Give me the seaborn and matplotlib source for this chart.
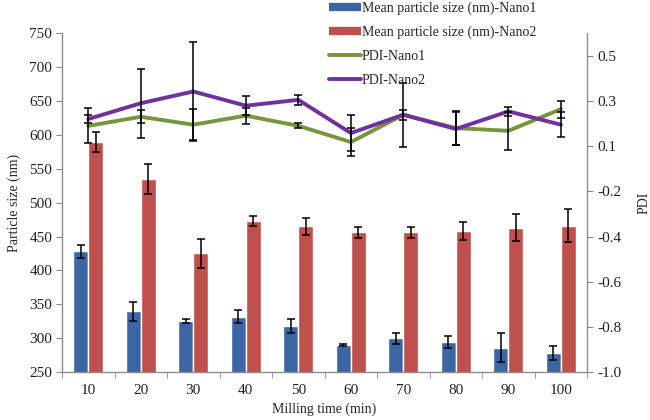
import numpy as np
import pandas as pd
import matplotlib
matplotlib.use("Agg")
import matplotlib.pyplot as plt
from matplotlib.lines import Line2D
from matplotlib.ticker import FixedLocator
import seaborn as sns

# --- dados ---
milling_time = ["10", "20", "30", "40", "50", "60", "70", "80", "90", "100"]

size_nano1 = [428, 340, 326, 332, 318, 290, 300, 294, 286, 278]
size_nano1_err = [10, 14, 3, 10, 10, 2, 8, 9, 21, 10]
size_nano2 = [589, 535, 425, 473, 465, 456, 456, 458, 463, 466]
size_nano2_err = [15, 22, 21, 8, 13, 8, 8, 13, 20, 24]

pdi_nano1 = [0.19, 0.23, 0.195, 0.235, 0.19, 0.118, 0.239, 0.18, 0.168, 0.264]
pdi_nano1_err = [0.077, 0.028, 0.069, 0.035, 0.011, 0.062, 0.022, 0.075, 0.084, 0.038]
pdi_nano2 = [0.22, 0.29, 0.342, 0.279, 0.305, 0.158, 0.239, 0.176, 0.254, 0.195]
pdi_nano2_err = [0.019, 0.152, 0.217, 0.041, 0.022, 0.081, 0.141, 0.073, 0.019, 0.054]

# rótulos do eixo PDI como aparecem na figura original
pdi_ticks = [-0.9, -0.7, -0.5, -0.3, -0.1, 0.1, 0.3, 0.5]
pdi_tick_labels = ["-1.0", "-0.8", "-0.6", "-0.4", "-0.2", "0.1", "0.3", "0.5"]

series_names = ["Mean particle size (nm)-Nano1", "Mean particle size (nm)-Nano2",
                "PDI-Nano1", "PDI-Nano2"]
# ------------------------------

AZUL = "#3b66a3"
VERMELHO = "#c0504d"
VERDE = "#77963c"
ROXO = "#7030a0"
CINZA = "#8c8c8c"

sns.set_style("white")
plt.rcParams["font.family"] = ["Liberation Serif", "DejaVu Serif"]
plt.rcParams["font.size"] = 10

df = pd.concat([
    pd.DataFrame({"tempo": milling_time, "tamanho": size_nano1, "serie": series_names[0]}),
    pd.DataFrame({"tempo": milling_time, "tamanho": size_nano2, "serie": series_names[1]}),
])

fig = plt.figure(figsize=(6.5, 4.2), dpi=100)
ax = fig.add_axes([0.0954, 0.114, 0.808, 0.807])

sns.barplot(data=df, x="tempo", y="tamanho", hue="serie", order=milling_time,
            palette=[AZUL, VERMELHO], width=0.57, errorbar=None, saturation=1,
            legend=False, ax=ax)

# barras de erro nas posições das barras desenhadas pelo seaborn
for cont, erros in zip(ax.containers, [size_nano1_err, size_nano2_err]):
    xs = [b.get_x() + b.get_width() / 2 for b in cont]
    hs = [b.get_height() for b in cont]
    ax.errorbar(xs, hs, yerr=erros, fmt="none", ecolor="black", elinewidth=1.1,
                capsize=3, capthick=1.1, zorder=5)

ax.set_ylim(250, 750)
ax.set_yticks(range(250, 751, 50))
ax.set_xlim(-0.5, len(milling_time) - 0.5)
ax.set_xlabel("Milling time (min)", fontsize=10, labelpad=4)
ax.set_ylabel("Particle size (nm)", fontsize=10, labelpad=6)

# eixo secundário: PDI
ax2 = ax.twinx()
pos = np.arange(len(milling_time))
for vals, errs, cor in [(pdi_nano1, pdi_nano1_err, VERDE), (pdi_nano2, pdi_nano2_err, ROXO)]:
    sns.lineplot(x=pos, y=vals, color=cor, linewidth=2.8, ax=ax2, zorder=3)
    ax2.errorbar(pos, vals, yerr=errs, fmt="none", ecolor="black", elinewidth=1.1,
                 capsize=3, capthick=1.1, zorder=4)

ax2.set_ylim(-0.9, 0.6)
ax2.set_yticks(pdi_ticks)
ax2.set_yticklabels(pdi_tick_labels)
ax2.set_ylabel("PDI", fontsize=10, labelpad=12)
ax2.set_xlim(-0.5, len(milling_time) - 0.5)

# aparência estilo Excel
for a in (ax, ax2):
    a.spines["top"].set_visible(False)
    for s in ("left", "right", "bottom"):
        a.spines[s].set_color(CINZA)
        a.spines[s].set_linewidth(1)
    a.tick_params(colors="#222222", labelsize=11)
ax.spines["right"].set_visible(False)
ax2.spines["left"].set_visible(False)
ax2.spines["bottom"].set_visible(False)

ax.tick_params(axis="y", left=True, direction="out", length=4, color=CINZA, pad=3)
ax2.tick_params(axis="y", right=True, direction="out", length=4, color=CINZA, pad=3)
ax.tick_params(axis="x", bottom=False, pad=5)
ax.xaxis.set_minor_locator(FixedLocator(np.arange(-0.5, len(milling_time), 1.0)))
ax.tick_params(axis="x", which="minor", bottom=True, direction="out", length=4, color=CINZA)

handles = [
    Line2D([0], [0], color=AZUL, lw=6, solid_capstyle="butt"),
    Line2D([0], [0], color=VERMELHO, lw=6, solid_capstyle="butt"),
    Line2D([0], [0], color=VERDE, lw=2.8),
    Line2D([0], [0], color=ROXO, lw=2.8),
]
fig.legend(handles, series_names, loc="upper left", bbox_to_anchor=(0.497, 1.01),
           frameon=False, fontsize=10, handlelength=2.3, handletextpad=0.1,
           labelspacing=0.78, borderaxespad=0)

fig.savefig("out.png", dpi=100)
plt.close(fig)
